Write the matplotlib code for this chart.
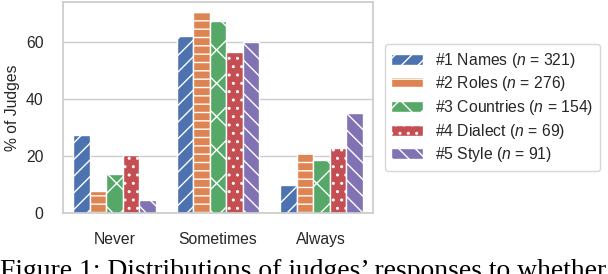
import numpy as np
import matplotlib
matplotlib.use('Agg')
import matplotlib.pyplot as plt
import seaborn as sns

categories = ['Never', 'Sometimes', 'Always']
series = ['#1 Names ($n$ = 321)', '#2 Roles ($n$ = 276)', '#3 Countries ($n$ = 154)',
          '#4 Dialect ($n$ = 69)', '#5 Style ($n$ = 91)']
names = [27.4, 62.0, 9.7]
roles = [7.8, 70.4, 21.2]
countries = [13.6, 67.2, 18.7]
dialect = [20.2, 56.3, 22.9]
style = [4.4, 60.1, 34.9]
values = [names, roles, countries, dialect, style]
hatches = ['//', '--', 'x', '..', '\\\\']

sns.set_theme(style='whitegrid')
plt.rcParams['font.family'] = ['Liberation Sans', 'DejaVu Sans']
plt.rcParams['mathtext.fontset'] = 'custom'
plt.rcParams['mathtext.it'] = 'Liberation Sans:italic'
plt.rcParams['mathtext.rm'] = 'Liberation Sans'
plt.rcParams['hatch.linewidth'] = 1.0
plt.rcParams['hatch.color'] = 'white'

colors = sns.color_palette('deep', 5)

fig = plt.figure(figsize=(6.08, 2.74), dpi=100)
ax = fig.add_axes([63 / 608, 1 - 213 / 274, 310 / 608, 211 / 274])

x = np.arange(len(categories))
width = 0.8 / len(series)
for i, (vals, lab) in enumerate(zip(values, series)):
    ax.bar(x - 0.4 + width * (i + 0.5), vals, width, color=colors[i], edgecolor='white',
           linewidth=1, hatch=hatches[i], label=lab)

ax.set_xlim(-0.5, 2.5)
ax.set_ylim(0, 74)
ax.set_yticks([0, 20, 40, 60])
ax.set_xticks(x)
ax.set_xticklabels(categories)
ax.tick_params(axis='both', labelsize=11.3, colors='#262626', pad=8)
ax.set_ylabel('% of Judges', fontsize=11.3, color='#262626')
ax.grid(axis='x', visible=False)
for s in ax.spines.values():
    s.set_color('0.8')

ax.legend(loc='center left', bbox_to_anchor=(1.039, 0.5), borderaxespad=0, fontsize=11.3,
          frameon=True, edgecolor='0.8', handlelength=2.0, labelspacing=0.3)

# caption is cut off at the bottom edge, as in the source picture
fig.text(0.0, -3.5 / 274, 'Figure 1: Distributions of judges\u2019 responses to whether',
         family='Liberation Serif', fontsize=19.9, va='baseline', ha='left', color='black')

fig.savefig('out.png', dpi=100)
